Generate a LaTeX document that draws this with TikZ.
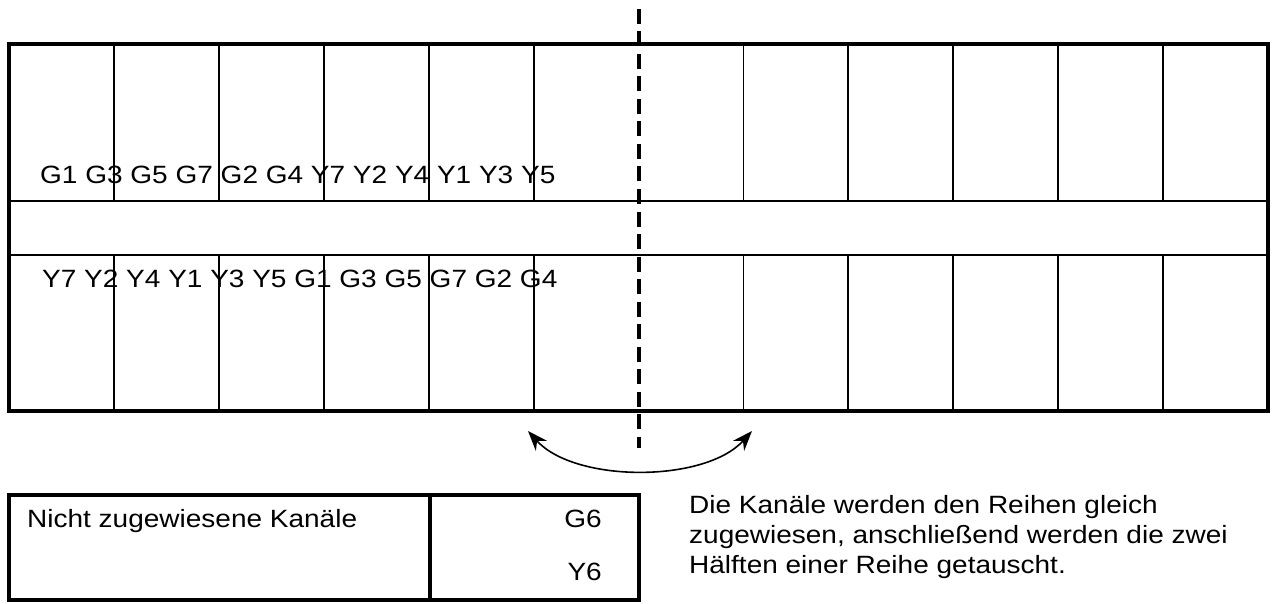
\documentclass[tikz,border=0pt]{standalone}
\usepackage{fontspec}
\setmainfont{Liberation Sans}[FakeStretch=1.12]
\usetikzlibrary{arrows.meta}

\begin{document}
\begin{tikzpicture}[x=1pt, y=-1pt,
    frame/.style={draw, line width=3.4pt},
    cell/.style={draw, line width=1.8pt},
    cut/.style={draw, line width=3.2pt, dash pattern=on 15pt off 7.5pt},
    label/.style={inner sep=0pt, font=\fontsize{25}{30}\selectfont},
    swap/.style={{Stealth[length=20pt,width=15pt]}-{Stealth[length=20pt,width=15pt]}, line width=1.6pt}
]
\useasboundingbox (0,0) rectangle (1273,604);

% Channel rows: twelve slots above and below the gap
\foreach \i in {1,...,5,7,8,...,11} {
    \draw[cell] ({9+\i*104.92},44) -- ({9+\i*104.92},201);
    \draw[cell] ({9+\i*104.92},255) -- ({9+\i*104.92},411);
}
\draw[cell] (9,201) -- (1268,201);
\draw[cell] (9,255) -- (1268,255);
\draw[frame] (9,44) rectangle (1268,411);

% Split between the two halves
\draw[cut] (639,9) -- (639,448);

% Channel labels
\node[label, anchor=base west] (rowtop) at (40,183) {G1 G3 G5 G7 G2 G4 Y7 Y2 Y4 Y1 Y3 Y5};
\node[label, anchor=base west] (rowbot) at (42,287) {Y7 Y2 Y4 Y1 Y3 Y5 G1 G3 G5 G7 G2 G4};

% Swap arrow
\coordinate (swapL) at (528,431);
\coordinate (swapR) at (752,431);
\draw[swap] (swapL) .. controls (575,483) and (705,483) .. (swapR);

% Unassigned channels
\draw[frame] (9,495) rectangle (639,600);
\draw[frame] (430,495) -- (430,600);
\node[label, anchor=base west] (unassigned) at (27,527) {Nicht zugewiesene Kanäle};
\node[label, anchor=base east] (g6) at (602,527) {G6};
\node[label, anchor=base east] (y6) at (602,580) {Y6};

% Note
\node[label, anchor=base west, align=left] (note) at (689,573)
    {Die Kanäle werden den Reihen gleich\\
     zugewiesen, anschließend werden die zwei\\
     Hälften einer Reihe getauscht.};

\end{tikzpicture}
\end{document}
